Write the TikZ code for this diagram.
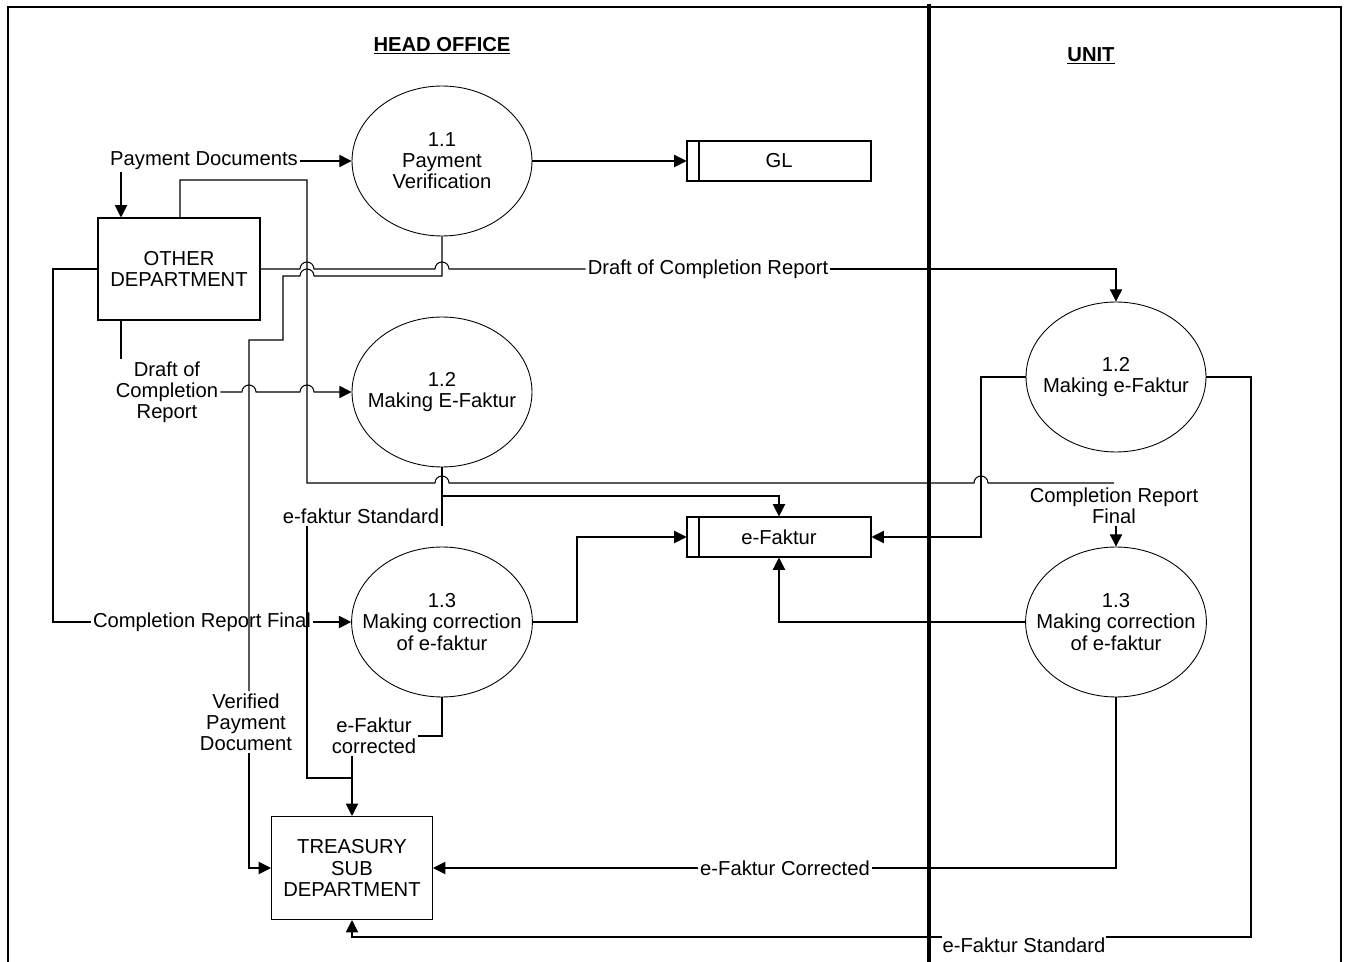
\documentclass[tikz,border=0pt]{standalone}
\usepackage{fontspec}
\setmainfont{Liberation Sans}
\usetikzlibrary{arrows.meta,shapes.geometric}

\begin{document}
\begin{tikzpicture}[x=0.02cm,y=-0.02cm,>={Triangle[length=7pt,width=7pt]},
  line width=0.6pt,
  font=\fontsize{11.5}{12}\selectfont,
  every node/.style={align=center,inner sep=1pt},
  proc/.style={ellipse,draw,line width=0.5pt,minimum width=3.6cm,minimum height=3cm,inner xsep=-9pt,inner ysep=0pt},
  entity/.style={rectangle,draw,minimum width=3.24cm,minimum height=2.04cm},
  store/.style={rectangle,draw,minimum width=3.68cm,minimum height=0.8cm,
    path picture={\draw ([xshift=0.24cm]path picture bounding box.north west) -- ([xshift=0.24cm]path picture bounding box.south west);}},
  flow/.style={->},
  lane/.style={line width=2.8pt}]
  \useasboundingbox (0,0) rectangle (1349,962);

  % swimlanes
  \draw[line width=1pt] (8,962) -- (8,7) -- (1341,7) -- (1341,962);
  \draw[lane] (929,4) -- (929,962);
  \node[font=\fontsize{11.5}{12}\selectfont\bfseries] (ho) at (442,46) {\underline{HEAD OFFICE}};
  \node[font=\fontsize{11.5}{12}\selectfont\bfseries] (un) at (1091,56) {\underline{UNIT}};

  % entities, processes, stores
  \node[entity] (other) at (179,269) {OTHER\\DEPARTMENT};
  \node[entity,minimum width=3.22cm,minimum height=2.06cm] (treasury) at (352,868) {TREASURY\\SUB\\DEPARTMENT};
  \node[proc] (p11) at (442,161) {1.1\\Payment\\Verification};
  \node[proc] (p12) at (442,392) {1.2\\Making E-Faktur};
  \node[proc] (p13) at (442,622) {1.3\\Making correction\\of e-faktur};
  \node[proc] (u12) at (1116,377) {1.2\\Making e-Faktur};
  \node[proc] (u13) at (1116,622) {1.3\\Making correction\\of e-faktur};
  \node[store] (gl) at (779,161) {GL};
  \node[store] (efak) at (779,537) {e-Faktur};

  % flow labels
  \node (paydoc) at (204,161) {Payment Documents};
  \node (dcrh) at (167,392) {Draft of\\Completion\\Report};
  \node (dcr) at (708,269) {Draft of Completion Report};
  \node (crfh) at (202,622) {Completion Report Final};
  \node (vpd) at (246,722) {Verified\\Payment\\Document};
  \node (efstd) at (361,516) {e-faktur Standard};
  \node (efcor) at (374,736) {e-Faktur\\corrected};
  \node (crfu) at (1114,506) {Completion Report\\Final};
  \node (efcu) at (785,868) {e-Faktur Corrected};
  \node[anchor=north,inner sep=0pt] (efsu) at (1024,937) {e-Faktur Standard};

  % payment documents
  \draw[flow] (paydoc.east) -- (p11.west);
  \draw[flow] (paydoc.south -| 121,0) -- (121,0 |- other.north);
  \draw[flow] (p11.east) -- (gl.west);

  % verified payment document
  \draw (p11.south) -- (442,276) -- (314,276) arc[start angle=0,end angle=-180,radius=7]
    -- (283,276) -- (283,340) -- (249,340) -- (vpd.north -| 249,0);
  \draw[flow] (vpd.south -| 249,0) |- (treasury.west);

  % draft of completion report
  \draw (other.east) -- (300,269) arc[start angle=180,end angle=360,radius=7]
    -- (435,269) arc[start angle=180,end angle=360,radius=7] -- (dcr.west);
  \draw[flow] (dcr.east) -| (u12.north);
  \draw (other.south -| 121,0) -- (121,0 |- dcrh.north);
  \draw[flow] (dcrh.east) -- (242,392) arc[start angle=180,end angle=360,radius=7]
    -- (300,392) arc[start angle=180,end angle=360,radius=7] -- (p12.west);

  % completion report final
  \draw (other.west) -- (53,269) |- (crfh.west);
  \draw[flow] (crfh.east) -- (p13.west);
  \draw (other.north -| 180,0) -- (180,180) -| (307,483)
    -- (435,483) arc[start angle=180,end angle=360,radius=7]
    -- (974,483) arc[start angle=180,end angle=360,radius=7] -- (crfu.north |- 0,483);
  \draw[flow] (crfu.south -| u13.north) -- (u13.north);

  % e-faktur
  \draw (p12.south) -- (442,526);
  \draw[flow] (442,496) -| (efak.north);
  \draw (efstd.south -| 307,0) |- (352,778);
  \draw (p13.south) |- (efcor.east);
  \draw[flow] (efcor.south -| treasury.north) -- (treasury.north);
  \draw[flow] (p13.east) -- (577,622) |- (efak.west);
  \draw[flow] (u12.west) -- (981,377) |- (efak.east);
  \draw[flow] (u13.west) -| (efak.south);
  \draw (u13.south) |- (efcu.east);
  \draw[flow] (efcu.west) -- (treasury.east);
  \draw (u12.east) -- (1251,377) |- (efsu.north east);
  \draw[flow] (efsu.north west) -| (treasury.south);
\end{tikzpicture}
\end{document}
